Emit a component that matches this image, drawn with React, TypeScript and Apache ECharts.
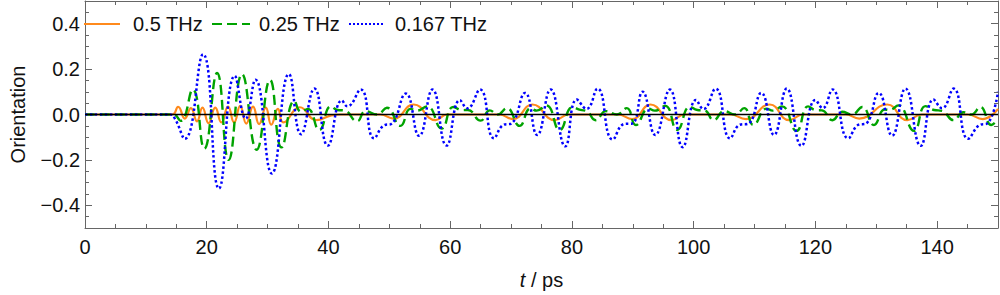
import React, { useEffect, useRef } from "react";
import * as echarts from "echarts";

const seriesNames = ["0.5 THz", "0.25 THz", "0.167 THz"];
const seriesColors = ["#ff8a1c", "#00a300", "#0000ff"];

const orangeData: number[][] = [
  [0, 0], [14.3, 0], [15.3, 0.034], [16.4, -0.018], [17.4, 0.028], [18.4, -0.03], [19.3, 0.03],
  [20.3, -0.038], [21.4, 0.03], [22.4, -0.035], [23.5, 0.035], [24.5, -0.035], [25.5, 0.038],
  [26.5, -0.04], [27.6, 0.035], [28.6, -0.042], [29.7, 0.03], [30.6, -0.045], [31.7, 0.025],
  [32.6, -0.035], [35.3, 0.032], [38.0, -0.025], [40.5, -0.004], [42, 0], [48.5, 0],
  [50.7, -0.018], [54.0, 0.044], [57.6, -0.025], [59.5, 0], [68, 0], [70.3, -0.02],
  [73.5, 0.044], [77.2, -0.025], [79.5, 0], [87.5, 0], [89.9, -0.02], [92.9, 0.044],
  [96.4, -0.025], [98.5, 0], [106, 0], [108.6, -0.02], [112.5, 0.044], [115.7, -0.025],
  [118, 0], [125, 0], [127.2, -0.018], [131.8, 0.044], [135.1, -0.025], [137.5, 0],
  [145, 0], [147.5, -0.02], [150, 0.025],
];

const greenData: number[][] = [
  [0, 0], [14.5, 0], [15.7, -0.028], [17.7, 0.11], [19.6, -0.15], [21.7, 0.183], [23.6, -0.2],
  [25.8, 0.178], [28.2, -0.155], [30.4, 0.152], [32.3, -0.145], [34.4, 0.06], [35.5, 0.012],
  [36.6, 0.025],
  [38.5, -0.068], [40.4, 0.036], [41.5, 0.02], [42.6, 0.018], [44.7, -0.03], [46.1, 0.015],
  [48.0, 0.0], [49.6, 0.03], [51.8, -0.05], [53.5, 0.025], [54.5, 0.017], [56.2, 0.036],
  [58.6, -0.062], [60.5, 0.033], [62.0, 0.019], [62.9, 0.02], [65.0, -0.027], [66.5, 0.018],
  [67.8, 0.0], [69.3, 0.028], [71.4, -0.05], [73.2, 0.027], [74.2, 0.017], [75.8, 0.04],
  [78.0, -0.068], [80.1, 0.032], [81.4, 0.02], [82.4, 0.015], [83.9, -0.025], [85.6, 0.015],
  [87.4, 0.0], [89.0, 0.028], [90.5, -0.046], [92.6, 0.026], [93.6, 0.017], [95.3, 0.038],
  [97.3, -0.068], [99.4, 0.034], [100.6, 0.02], [101.8, 0.018], [103.3, -0.025], [105.0, 0.015],
  [106.8, 0.0], [108.3, 0.028], [109.8, -0.046], [112.0, 0.026], [113.0, 0.017], [114.5, 0.036],
  [116.9, -0.072], [118.8, 0.036], [120.0, 0.02], [121.1, 0.018], [122.8, -0.025], [124.4, 0.012],
  [126.0, 0.0], [127.7, 0.033], [129.6, -0.046], [131.4, 0.022], [132.2, 0.02], [133.6, 0.04],
  [136.2, -0.072], [138.1, 0.037], [139.5, 0.02], [140.8, 0.016], [142.7, -0.025], [144.3, 0.01],
  [145.6, 0.0], [147.1, 0.033], [148.9, -0.046], [150, -0.02],
];

const blueData: number[][] = [
  [0, 0], [14, 0], [14.8, -0.02], [16.4, -0.107], [19.4, 0.265], [22.0, -0.326], [24.6, 0.17],
  [26.4, -0.018], [28.0, 0.153], [30.7, -0.26], [33.5, 0.178], [35.5, -0.087], [37.7, 0.114],
  [39.9, -0.137],
  [42.2, 0.062], [43.1, 0.036], [45.3, 0.11], [47.5, -0.105], [49.2, -0.047], [50.3, -0.042],
  [52.7, 0.092], [54.9, -0.094], [57.1, 0.11], [59.4, -0.137],
  [61.6, 0.063], [62.8, 0.027], [64.9, 0.11], [67.2, -0.105], [68.8, -0.045], [70.0, -0.04],
  [72.3, 0.095], [74.3, -0.09], [76.5, 0.11], [78.9, -0.14],
  [80.8, 0.066], [82.4, 0.025], [84.2, 0.114], [86.7, -0.11], [88.6, -0.042], [89.9, -0.04],
  [91.6, 0.1], [93.7, -0.09], [96.1, 0.11], [98.2, -0.144],
  [100.4, 0.064], [101.6, 0.024], [103.6, 0.114], [106.0, -0.105], [107.6, -0.045], [109.0, -0.04],
  [111.1, 0.095], [113.2, -0.09], [115.3, 0.114], [117.7, -0.138],
  [120.0, 0.064], [121.2, 0.028], [122.8, 0.11], [125.4, -0.105], [127.1, -0.045], [128.3, -0.04],
  [130.4, 0.095], [132.6, -0.093], [134.8, 0.114], [137.3, -0.138],
  [139.4, 0.066], [140.8, 0.028], [142.7, 0.114], [145.1, -0.107], [147.1, -0.045], [148.2, -0.04],
  [150, 0.1],
];

const zeroLine: number[][] = [[0, 0], [150, 0]];

const xMajorTicks = [0, 20, 40, 60, 80, 100, 120, 140];
const xMinorTicks = [0, 5, 10, 15, 20, 25, 30, 35, 40, 45, 50, 55, 60, 65, 70, 75, 80, 85, 90, 95, 100, 105, 110, 115, 120, 125, 130, 135, 140, 145, 150];
const yMajorTicks = [-0.4, -0.2, 0, 0.2, 0.4];
const yMinorTicks = [-0.5, -0.45, -0.4, -0.35, -0.3, -0.25, -0.2, -0.15, -0.1, -0.05, 0, 0.05, 0.1, 0.15, 0.2, 0.25, 0.3, 0.35, 0.4, 0.45, 0.5];

const FONT = "'Liberation Sans', Arial, sans-serif";
const FS = 20;
const AXIS_COLOR = "#666666";
const TEXT_COLOR = "#111111";

export default function App() {
  const ref = useRef<HTMLDivElement>(null);
  useEffect(() => {
    if (!ref.current) return;
    const chart = echarts.init(ref.current, undefined, { renderer: "svg" });
    const fmtY = (v: number) => {
      const s = Math.abs(v).toFixed(1);
      return v < -1e-9 ? "\u2212" + s : s;
    };
    const xBase = (pos: "bottom" | "top", ticks: number[], len: number, labels: boolean, line: boolean, extra: any = {}) => ({
      type: "value",
      position: pos,
      min: 0,
      max: 150,
      axisLine: { show: line, onZero: false, lineStyle: { color: AXIS_COLOR, width: 1 } },
      axisTick: { show: true, inside: true, length: len, customValues: ticks, lineStyle: { color: AXIS_COLOR, width: 1 } },
      axisLabel: labels
        ? { show: true, customValues: xMajorTicks, margin: 9, fontSize: FS, fontFamily: FONT, color: TEXT_COLOR }
        : { show: false },
      splitLine: { show: false },
      ...extra,
    });
    const yBase = (pos: "left" | "right", ticks: number[], len: number, labels: boolean, line: boolean, extra: any = {}) => ({
      type: "value",
      position: pos,
      min: -0.5,
      max: 0.5,
      axisLine: { show: line, onZero: false, lineStyle: { color: AXIS_COLOR, width: 1 } },
      axisTick: { show: true, inside: true, length: len, customValues: ticks, lineStyle: { color: AXIS_COLOR, width: 1 } },
      axisLabel: labels
        ? { show: true, customValues: yMajorTicks, formatter: fmtY, margin: 5, fontSize: FS, fontFamily: FONT, color: TEXT_COLOR }
        : { show: false },
      splitLine: { show: false },
      ...extra,
    });
    const lineSeries = (name: string, data: number[][], color: string, width: number, type: any, z: number) => ({
      name,
      type: "line",
      data,
      xAxisIndex: 0,
      yAxisIndex: 0,
      showSymbol: false,
      symbol: "none",
      smooth: 0.5,
      lineStyle: { color, width, type },
      z,
      silent: true,
    });

    const legendY = 24;
    const legendItems = [
      { x1: 84, x2: 120, tx: 133, dash: null as any, w: 2 },
      { x1: 212, x2: 250, tx: 259, dash: [10, 5], w: 2 },
      { x1: 349, x2: 385, tx: 395, dash: [2, 2], w: 2 },
    ];
    const graphic: any[] = [];
    legendItems.forEach((it, i) => {
      graphic.push({
        type: "line",
        shape: { x1: it.x1, y1: legendY, x2: it.x2, y2: legendY },
        style: { stroke: seriesColors[i], lineWidth: it.w, lineDash: it.dash || undefined },
        z: 100,
      });
      graphic.push({
        type: "text",
        x: it.tx,
        y: legendY,
        style: { text: seriesNames[i], fontSize: FS, fontFamily: FONT, fill: TEXT_COLOR, verticalAlign: "middle", align: "left" },
        z: 100,
      });
    });

    chart.setOption({
      animation: false,
      backgroundColor: "#ffffff",
      grid: { left: 79, right: 2, top: 1, bottom: 64, containLabel: false },
      xAxis: [
        xBase("bottom", xMajorTicks, 7, true, true, {
          name: "{i|t} / ps",
          nameLocation: "middle",
          nameGap: 42,
          nameTextStyle: {
            fontSize: FS,
            fontFamily: FONT,
            color: TEXT_COLOR,
            rich: { i: { fontStyle: "italic", fontSize: FS, fontFamily: FONT, color: TEXT_COLOR } },
          },
        }),
        xBase("bottom", xMinorTicks, 4, false, false),
        xBase("top", xMajorTicks, 7, false, true),
        xBase("top", xMinorTicks, 4, false, false),
      ],
      yAxis: [
        yBase("left", yMajorTicks, 7, true, true, {
          name: "Orientation",
          nameLocation: "middle",
          nameGap: 57,
          nameRotate: 90,
          nameTextStyle: { fontSize: FS, fontFamily: FONT, color: TEXT_COLOR },
        }),
        yBase("left", yMinorTicks, 4, false, false),
        yBase("right", yMajorTicks, 7, false, true),
        yBase("right", yMinorTicks, 4, false, false),
      ],
      series: [
        lineSeries(seriesNames[0], orangeData, seriesColors[0], 2.2, "solid", 3),
        lineSeries(seriesNames[1], greenData, seriesColors[1], 2.4, [10, 5], 4),
        lineSeries(seriesNames[2], blueData, seriesColors[2], 2.5, [2.5, 2.5], 5),
        {
          name: "zero",
          type: "line",
          data: zeroLine,
          showSymbol: false,
          symbol: "none",
          lineStyle: { color: "#000000", width: 1.6 },
          z: 10,
          silent: true,
        },
      ],
      graphic,
    });
    return () => chart.dispose();
  }, []);
  return <div ref={ref} style={{ width: 1000, height: 295, position: "absolute", left: 0, top: 0 }} />;
}
